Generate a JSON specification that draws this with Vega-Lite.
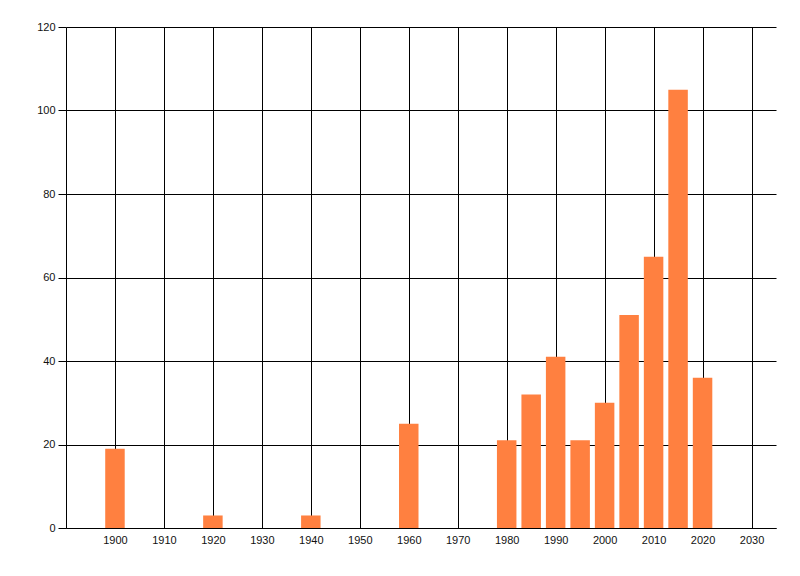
{
  "$schema": "https://vega.github.io/schema/vega-lite/v6.json",
  "width": 710,
  "height": 501,
  "autosize": {"type": "none"},
  "padding": {"left": 66, "top": 27, "right": 24, "bottom": 48},
  "background": "white",
  "data": {
    "values": [
      {"year": 1900, "count": 19},
      {"year": 1920, "count": 3},
      {"year": 1940, "count": 3},
      {"year": 1960, "count": 25},
      {"year": 1980, "count": 21},
      {"year": 1985, "count": 32},
      {"year": 1990, "count": 41},
      {"year": 1995, "count": 21},
      {"year": 2000, "count": 30},
      {"year": 2005, "count": 51},
      {"year": 2010, "count": 65},
      {"year": 2015, "count": 105},
      {"year": 2020, "count": 36}
    ]
  },
  "mark": {"type": "bar", "size": 19.5, "color": "#ff8040"},
  "encoding": {
    "x": {
      "field": "year",
      "type": "quantitative",
      "scale": {"domain": [1890, 2035], "nice": false, "zero": false, "padding": 0},
      "axis": {
        "values": [1900, 1910, 1920, 1930, 1940, 1950, 1960, 1970, 1980, 1990, 2000, 2010, 2020, 2030],
        "format": "d",
        "title": null,
        "ticks": false,
        "labelPadding": 6,
        "labelFlush": false,
        "grid": true,
        "gridColor": "black",
        "gridOpacity": 1,
        "gridWidth": 1,
        "domainColor": "black",
        "domainWidth": 1
      }
    },
    "y": {
      "field": "count",
      "type": "quantitative",
      "scale": {"domain": [0, 120], "nice": false, "padding": 0},
      "axis": {
        "values": [0, 20, 40, 60, 80, 100, 120],
        "title": null,
        "ticks": true,
        "tickSize": 8,
        "tickColor": "black",
        "labelPadding": 3,
        "grid": true,
        "gridColor": "black",
        "gridOpacity": 1,
        "gridWidth": 1,
        "domainColor": "black",
        "domainWidth": 1
      }
    }
  },
  "config": {
    "view": {"stroke": null},
    "axis": {
      "labelFont": "Liberation Sans",
      "labelFontSize": 11,
      "labelColor": "#111111"
    }
  }
}
